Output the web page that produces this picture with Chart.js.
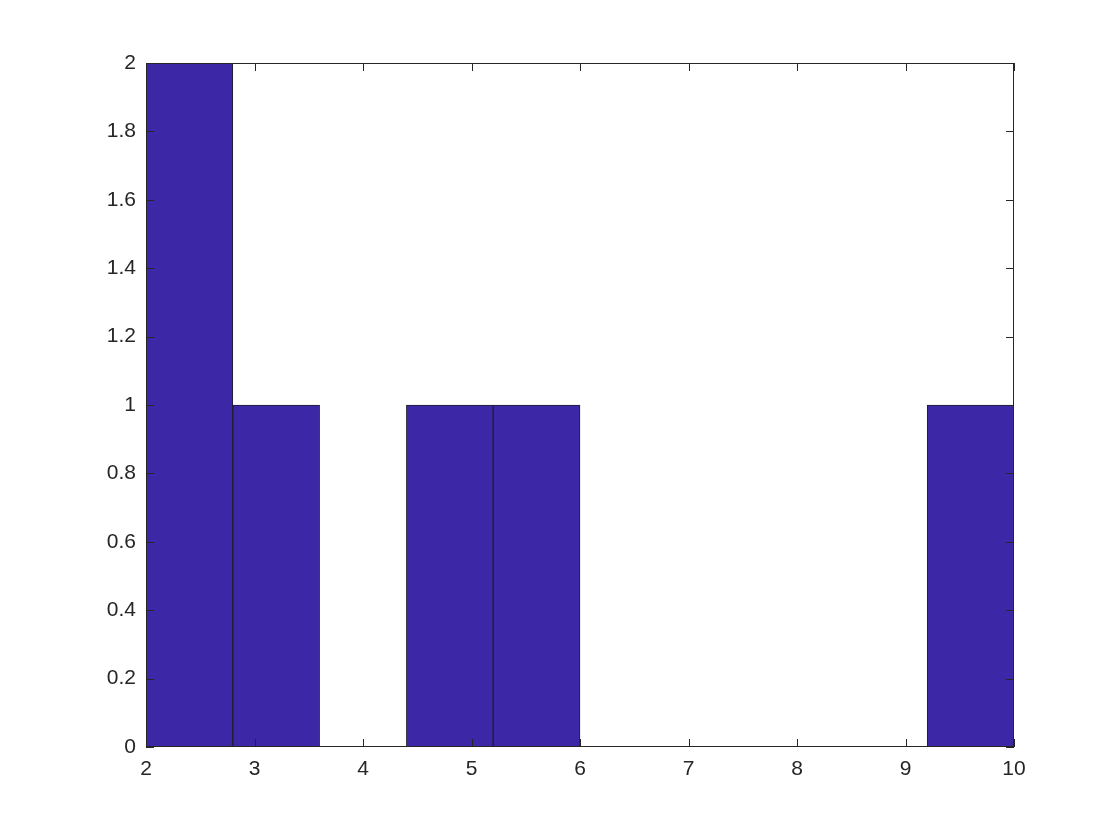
<!DOCTYPE html>
<html>
<head>
<meta charset="utf-8">
<script src="https://cdn.jsdelivr.net/npm/chart.js@4"></script>
<style>
html,body{margin:0;padding:0;background:#fff;}
#wrap{width:1120px;height:840px;}
</style>
</head>
<body>
<div id="wrap"><canvas id="c" width="1120" height="840"></canvas></div>
<script>
const binEdges = [2, 2.8, 3.6, 4.4, 5.2, 6, 6.8, 7.6, 8.4, 9.2, 10];
const binLabels = ['2-2.8','2.8-3.6','3.6-4.4','4.4-5.2','5.2-6','6-6.8','6.8-7.6','7.6-8.4','8.4-9.2','9.2-10'];
const counts = [2, 1, 0, 1, 1, 0, 0, 0, 0, 1];
const xTicks = [2, 3, 4, 5, 6, 7, 8, 9, 10];
const yTicks = [0, 0.2, 0.4, 0.6, 0.8, 1, 1.2, 1.4, 1.6, 1.8, 2];

const axisColor = '#262626';
const fontSpec = {family: 'Liberation Sans, Arial, Helvetica, sans-serif', size: 21};

const boxTicks = {
  id: 'boxTicks',
  afterDraw(chart) {
    const {ctx, chartArea: a} = chart;
    const xs = chart.scales.xv, ys = chart.scales.y;
    ctx.save();
    ctx.strokeStyle = axisColor;
    ctx.lineWidth = 1;
    ctx.beginPath();
    ctx.rect(a.left + 0.5, a.top + 0.5, a.right - a.left - 1, a.bottom - a.top - 1);
    ctx.stroke();
    const L = 8;
    ctx.beginPath();
    xTicks.forEach(v => {
      const px = Math.round(xs.getPixelForValue(v)) + 0.5;
      ctx.moveTo(px, a.bottom); ctx.lineTo(px, a.bottom - L);
      ctx.moveTo(px, a.top); ctx.lineTo(px, a.top + L);
    });
    yTicks.forEach(v => {
      const py = Math.round(ys.getPixelForValue(v)) + 0.5;
      ctx.moveTo(a.left, py); ctx.lineTo(a.left + L, py);
      ctx.moveTo(a.right, py); ctx.lineTo(a.right - L, py);
    });
    ctx.stroke();
    ctx.restore();
  }
};

new Chart(document.getElementById('c'), {
  type: 'bar',
  data: {
    labels: binLabels,
    datasets: [{
      data: counts,
      backgroundColor: '#3c28a6',
      borderColor: '#1f1f2e',
      borderWidth: 1,
      barPercentage: 1,
      categoryPercentage: 1,
      xAxisID: 'x'
    }]
  },
  options: {
    responsive: false,
    animation: false,
    layout: {padding: {left: 0, right: 106, top: 63, bottom: 0}},
    plugins: {legend: {display: false}, tooltip: {enabled: false}},
    scales: {
      x: {
        type: 'category',
        offset: true,
        display: false
      },
      xv: {
        type: 'linear',
        position: 'bottom',
        offset: false,
        min: 2, max: 10,
        afterBuildTicks(s) { s.ticks = xTicks.map(v => ({value: v})); },
        afterFit(s) { s.height = 93; },
        grid: {display: false, drawTicks: false, offset: false},
        border: {display: false},
        ticks: {color: axisColor, font: fontSpec, padding: 10, maxRotation: 0}
      },
      y: {
        min: 0, max: 2,
        afterBuildTicks(s) { s.ticks = yTicks.map(v => ({value: v})); },
        afterFit(s) { s.width = 146; },
        grid: {display: false, drawTicks: false},
        border: {display: false},
        ticks: {color: axisColor, font: fontSpec, padding: 10,
          callback: v => String(Math.round(v * 10) / 10)}
      }
    }
  },
  plugins: [boxTicks]
});
</script>
</body>
</html>
